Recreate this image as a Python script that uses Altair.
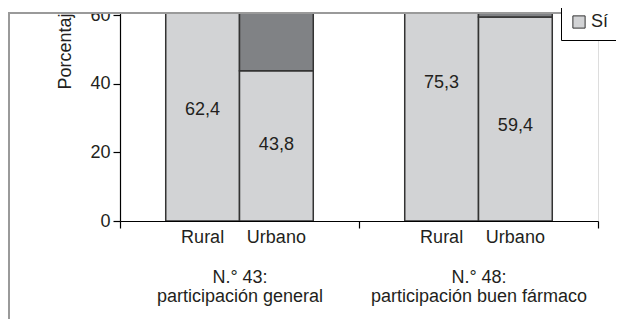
import altair as alt
import pandas as pd

# ---- data ----
groups = ["N.° 43:|participación general", "N.° 48:|participación buen fármaco"]
areas = ["Rural", "Urbano"]
si_values = [62.4, 43.8, 75.3, 59.4]          # % "Sí" (light segment)
si_labels = ["62,4", "43,8", "75,3", "59,4"]
label_pos = [32.4, 22.2, 40.2, 27.7]          # vertical position of value labels
responses = ["No", "Sí"]
y_ticks = [0, 20, 40, 60]

# ---- build tables ----
rows, lab_rows = [], []
k = 0
for g in groups:
    for a in areas:
        v = si_values[k]
        rows.append({"group": g, "area": a, "resp": "Sí", "y0": 0.0, "y1": v})
        rows.append({"group": g, "area": a, "resp": "No", "y0": v, "y1": 100.0})
        lab_rows.append({"group": g, "area": a, "text": si_labels[k], "pos": label_pos[k]})
        k += 1
df = pd.DataFrame(rows)
df_lab = pd.DataFrame(lab_rows)

W, H = 478, 208
FONT = "Liberation Sans"
TXT = "#231f20"
LIGHT = "#d2d3d5"
DARK = "#808285"
FRAME = "#9a9a9a"

x_enc = alt.X(
    "group:N",
    scale=alt.Scale(domain=groups, paddingInner=0, paddingOuter=0),
    axis=alt.Axis(
        title=None, tickBand="extent", labelAngle=0, labelBaseline="top",
        labelExpr="split(datum.label, '|')", labelFontSize=18, labelLineHeight=19,
        labelPadding=40, labelLimit=0, labelColor=TXT, labelFont=FONT,
        domainColor="black", tickColor="black", tickSize=7, domainWidth=1.2, tickWidth=1.2,
    ),
)
xo_enc = alt.XOffset("area:N", scale=alt.Scale(domain=areas, paddingInner=0, paddingOuter=0.62))

y_scale = alt.Scale(domain=[0, 60.6], nice=False, zero=False)

bars = alt.Chart(df).mark_bar(clip=True, stroke="#333333", strokeWidth=1.5).encode(
    x=x_enc,
    xOffset=xo_enc,
    y=alt.Y(
        "y0:Q", scale=y_scale,
        axis=alt.Axis(
            title="Porcentaje", values=y_ticks, grid=False, zindex=0,
            labelFontSize=18, labelColor=TXT, labelFont=FONT, labelPadding=3,
            tickSize=7, tickColor="black", domainColor="black", domainWidth=1.2, tickWidth=1.2,
            titleFontSize=18, titleFontWeight="normal", titleColor=TXT, titleFont=FONT,
            titleAngle=270, titleAlign="right", titleY=-10, titlePadding=15,
        ),
    ),
    y2="y1:Q",
    color=alt.Color(
        "resp:N",
        scale=alt.Scale(domain=responses, range=[DARK, LIGHT]),
        legend=alt.Legend(
            values=["Sí"], title=None, orient="none", legendX=441, legendY=-9,
            padding=9, strokeColor="black", fillColor="white", zindex=0,
            symbolType="square", symbolSize=150, symbolStrokeColor="#333333",
            symbolStrokeWidth=1, labelFontSize=18, labelFont=FONT, labelColor=TXT,
            labelOffset=3,
        ),
    ),
)

values_txt = alt.Chart(df_lab).mark_text(fontSize=18, font=FONT, color=TXT, baseline="middle").encode(
    x=alt.X("group:N", scale=alt.Scale(domain=groups, paddingInner=0, paddingOuter=0)),
    xOffset=xo_enc,
    y=alt.Y("pos:Q", scale=y_scale),
    text="text:N",
)

area_txt = alt.Chart(df_lab).mark_text(fontSize=18, font=FONT, color=TXT, baseline="top").encode(
    x=alt.X("group:N", scale=alt.Scale(domain=groups, paddingInner=0, paddingOuter=0)),
    xOffset=xo_enc,
    y=alt.value(H + 8),
    text="area:N",
)

cover = alt.Chart(df_lab).mark_rect(color="white").encode(
    x=alt.value(-112), x2=alt.value(W + 18), y=alt.value(-6), y2=alt.value(0)
)
top_rule = alt.Chart(df_lab).mark_rule(color=FRAME, strokeWidth=2).encode(
    x=alt.value(-112), x2=alt.value(W + 18), y=alt.value(0)
)
left_rule = alt.Chart(df_lab).mark_rule(color=FRAME, strokeWidth=2).encode(
    x=alt.value(-111), y=alt.value(0), y2=alt.value(H + 98)
)

chart = alt.layer(bars, values_txt, area_txt, cover, top_rule, left_rule).properties(
    width=W, height=H,
    padding={"left": 112, "top": 5, "right": 18, "bottom": 98},
    autosize="none",
).configure_view(stroke=None).configure(background="white", font=FONT)

chart.save("out.html", embed_options={"renderer": "svg", "actions": False})
